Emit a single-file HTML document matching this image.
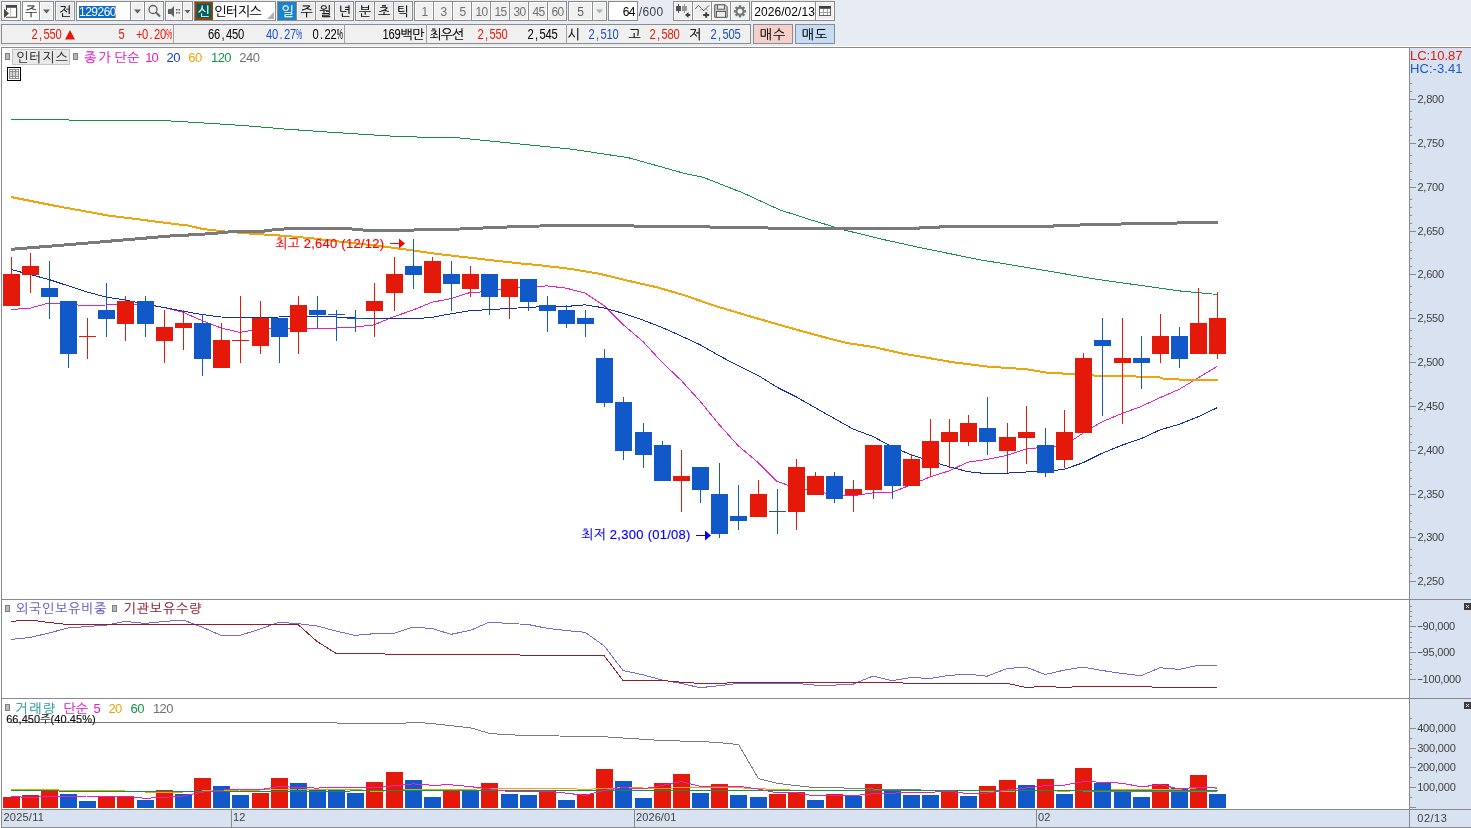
<!DOCTYPE html>
<html lang="ko"><head><meta charset="utf-8"><title>인터지스 차트</title>
<style>
html,body{margin:0;padding:0;background:#fff;}
body{width:1471px;height:828px;position:relative;overflow:hidden;font-family:'Liberation Sans','NanumGothic','Noto Sans CJK KR',sans-serif;}
.a{position:absolute;}
.t{white-space:nowrap;z-index:2;}
.k{-webkit-text-stroke:0.15px currentColor;}
.m i{display:inline-block;width:7.5px;text-align:center;font-style:normal;}
.m i.p{width:12.5px;margin:0 -2.5px;transform:scaleX(0.62);}
svg{position:absolute;left:0;top:0;}
</style></head><body>
<svg width="1471" height="828" viewBox="0 0 1471 828" shape-rendering="crispEdges">
<rect x="1410" y="48" width="61" height="780" fill="#d8e2f0"/>
<rect x="2" y="810" width="1469" height="17" fill="#d8e2f0"/>
<rect x="1" y="47" width="1470" height="1" fill="#8a8a8a"/>
<rect x="1" y="47" width="1" height="781" fill="#8a8a8a"/>
<rect x="1409" y="47" width="1" height="781" fill="#8a8a8a"/>
<rect x="1" y="599" width="1470" height="1" fill="#8a8a8a"/>
<rect x="1" y="698" width="1470" height="1" fill="#8a8a8a"/>
<rect x="1" y="809" width="1470" height="1" fill="#8a8a8a"/>
<rect x="1" y="827" width="1470" height="1" fill="#8a8a8a"/>
<rect x="1410" y="581" width="6" height="1" fill="#8a8a8a"/>
<rect x="1410" y="573" width="2" height="1" fill="#8a8a8a"/>
<rect x="1410" y="565" width="2" height="1" fill="#8a8a8a"/>
<rect x="1410" y="557" width="2" height="1" fill="#8a8a8a"/>
<rect x="1410" y="549" width="2" height="1" fill="#8a8a8a"/>
<rect x="1410" y="537" width="6" height="1" fill="#8a8a8a"/>
<rect x="1410" y="529" width="2" height="1" fill="#8a8a8a"/>
<rect x="1410" y="521" width="2" height="1" fill="#8a8a8a"/>
<rect x="1410" y="513" width="2" height="1" fill="#8a8a8a"/>
<rect x="1410" y="505" width="2" height="1" fill="#8a8a8a"/>
<rect x="1410" y="494" width="6" height="1" fill="#8a8a8a"/>
<rect x="1410" y="486" width="2" height="1" fill="#8a8a8a"/>
<rect x="1410" y="478" width="2" height="1" fill="#8a8a8a"/>
<rect x="1410" y="470" width="2" height="1" fill="#8a8a8a"/>
<rect x="1410" y="462" width="2" height="1" fill="#8a8a8a"/>
<rect x="1410" y="450" width="6" height="1" fill="#8a8a8a"/>
<rect x="1410" y="442" width="2" height="1" fill="#8a8a8a"/>
<rect x="1410" y="434" width="2" height="1" fill="#8a8a8a"/>
<rect x="1410" y="426" width="2" height="1" fill="#8a8a8a"/>
<rect x="1410" y="418" width="2" height="1" fill="#8a8a8a"/>
<rect x="1410" y="406" width="6" height="1" fill="#8a8a8a"/>
<rect x="1410" y="398" width="2" height="1" fill="#8a8a8a"/>
<rect x="1410" y="390" width="2" height="1" fill="#8a8a8a"/>
<rect x="1410" y="382" width="2" height="1" fill="#8a8a8a"/>
<rect x="1410" y="374" width="2" height="1" fill="#8a8a8a"/>
<rect x="1410" y="362" width="6" height="1" fill="#8a8a8a"/>
<rect x="1410" y="354" width="2" height="1" fill="#8a8a8a"/>
<rect x="1410" y="346" width="2" height="1" fill="#8a8a8a"/>
<rect x="1410" y="338" width="2" height="1" fill="#8a8a8a"/>
<rect x="1410" y="330" width="2" height="1" fill="#8a8a8a"/>
<rect x="1410" y="318" width="6" height="1" fill="#8a8a8a"/>
<rect x="1410" y="310" width="2" height="1" fill="#8a8a8a"/>
<rect x="1410" y="302" width="2" height="1" fill="#8a8a8a"/>
<rect x="1410" y="294" width="2" height="1" fill="#8a8a8a"/>
<rect x="1410" y="286" width="2" height="1" fill="#8a8a8a"/>
<rect x="1410" y="274" width="6" height="1" fill="#8a8a8a"/>
<rect x="1410" y="266" width="2" height="1" fill="#8a8a8a"/>
<rect x="1410" y="258" width="2" height="1" fill="#8a8a8a"/>
<rect x="1410" y="250" width="2" height="1" fill="#8a8a8a"/>
<rect x="1410" y="242" width="2" height="1" fill="#8a8a8a"/>
<rect x="1410" y="231" width="6" height="1" fill="#8a8a8a"/>
<rect x="1410" y="223" width="2" height="1" fill="#8a8a8a"/>
<rect x="1410" y="215" width="2" height="1" fill="#8a8a8a"/>
<rect x="1410" y="207" width="2" height="1" fill="#8a8a8a"/>
<rect x="1410" y="199" width="2" height="1" fill="#8a8a8a"/>
<rect x="1410" y="187" width="6" height="1" fill="#8a8a8a"/>
<rect x="1410" y="179" width="2" height="1" fill="#8a8a8a"/>
<rect x="1410" y="171" width="2" height="1" fill="#8a8a8a"/>
<rect x="1410" y="163" width="2" height="1" fill="#8a8a8a"/>
<rect x="1410" y="155" width="2" height="1" fill="#8a8a8a"/>
<rect x="1410" y="143" width="6" height="1" fill="#8a8a8a"/>
<rect x="1410" y="135" width="2" height="1" fill="#8a8a8a"/>
<rect x="1410" y="127" width="2" height="1" fill="#8a8a8a"/>
<rect x="1410" y="119" width="2" height="1" fill="#8a8a8a"/>
<rect x="1410" y="111" width="2" height="1" fill="#8a8a8a"/>
<rect x="1410" y="99" width="6" height="1" fill="#8a8a8a"/>
<rect x="1410" y="91" width="2" height="1" fill="#8a8a8a"/>
<rect x="1410" y="83" width="2" height="1" fill="#8a8a8a"/>
<polyline points="11.0,309.5 30.0,308.2 49.0,303.0 68.0,304.5 87.0,305.5 106.0,305.0 125.0,304.5 145.0,304.5 164.0,307.5 183.0,312.2 202.0,320.6 221.0,328.0 240.0,332.4 260.0,328.9 279.0,328.9 298.0,327.6 317.0,328.9 336.0,328.0 355.0,327.1 374.0,324.9 394.0,316.6 413.0,310.1 432.0,302.2 451.0,298.7 470.0,292.5 489.0,291.6 509.0,288.1 528.0,286.8 547.0,285.9 566.0,288.1 585.0,293.0 604.0,305.7 623.0,324.5 643.0,341.6 662.0,362.2 681.0,380.2 700.0,401.2 719.0,424.4 738.0,445.5 758.0,462.5 777.0,481.4 796.0,488.0 815.0,490.6 834.0,495.0 853.0,495.8 873.0,492.8 892.0,492.3 911.0,484.9 930.0,477.0 949.0,470.9 968.0,462.1 987.0,459.5 1007.0,455.5 1026.0,449.0 1045.0,447.2 1064.0,445.9 1083.0,433.2 1102.0,421.8 1122.0,413.5 1141.0,406.5 1160.0,397.7 1179.0,389.4 1198.0,378.0 1217.0,366.6" fill="none" stroke="#e61fc4" stroke-width="1"/>
<polyline points="11.0,269.5 30.0,274.5 49.0,279.5 68.0,285.8 87.0,292.0 106.0,297.0 125.0,300.0 145.0,304.0 164.0,307.5 183.0,311.2 202.0,314.5 221.0,317.0 240.0,317.5 260.0,317.5 279.0,317.0 298.0,316.5 317.0,316.5 336.0,317.0 355.0,318.0 374.0,318.6 394.0,318.6 413.0,319.0 432.0,317.3 451.0,313.8 470.0,310.7 489.0,309.6 509.0,308.5 528.0,307.4 547.0,306.5 566.0,306.5 585.0,304.8 604.0,307.9 623.0,313.3 643.0,320.1 662.0,327.4 681.0,335.9 700.0,344.7 719.0,355.6 738.0,365.7 758.0,375.3 777.0,387.2 796.0,396.8 815.0,407.6 834.0,418.3 853.0,429.0 873.0,436.5 892.0,446.8 911.0,454.7 930.0,461.2 949.0,466.7 968.0,471.7 987.0,473.7 1007.0,473.1 1026.0,472.0 1045.0,471.5 1064.0,469.3 1083.0,462.8 1102.0,453.3 1122.0,445.2 1141.0,438.7 1160.0,429.9 1179.0,424.4 1198.0,416.8 1217.0,407.8" fill="none" stroke="#0f2fa3" stroke-width="1"/>
<polyline points="11.0,197.0 28.5,200.5 57.0,206.2 85.7,211.4 108.5,215.6 142.8,219.9 171.3,223.6 188.5,225.6 202.7,229.0 222.7,231.3 245.6,233.3 285.5,235.9 314.0,238.5 342.6,241.9 371.0,245.0 394.0,247.9 420.0,251.5 434.3,253.6 471.4,257.9 514.2,262.8 542.8,265.6 571.3,269.0 599.9,273.9 628.4,280.8 657.0,287.3 685.5,295.6 714.0,305.6 742.7,314.2 771.2,322.5 799.8,330.6 820.0,336.1 847.0,343.1 873.0,346.9 902.4,353.5 926.9,357.7 951.4,362.0 987.0,366.5 1027.0,369.3 1047.0,372.7 1075.6,374.2 1095.5,375.6 1158.4,377.0 1164.0,378.7 1181.0,379.6 1217.8,379.9" fill="none" stroke="#eea40a" stroke-width="2"/>
<polyline points="11.0,119.1 57.0,119.1 80.0,120.8 114.0,120.8 137.0,120.6 171.0,121.0 211.0,123.4 245.6,125.7 285.5,129.1 322.7,131.7 365.5,134.5 399.8,136.6 460.0,138.0 514.2,143.4 571.3,149.1 628.4,157.7 685.5,173.7 702.7,177.1 742.7,192.8 779.8,209.9 810.0,219.6 844.3,230.0 881.4,239.1 924.2,248.5 981.3,260.0 1038.4,269.4 1095.5,279.1 1152.7,287.1 1181.2,291.1 1217.8,294.5" fill="none" stroke="#129443" stroke-width="1"/>
<polyline points="11.0,249.3 57.0,245.6 114.0,240.8 171.0,235.9 185.0,235.2 200.0,234.4 212.0,233.5 224.0,232.5 231.0,231.6 262.0,231.4 268.0,230.5 276.0,229.5 294.0,228.4 342.6,228.2 365.5,230.2 400.0,230.3 460.0,229.0 518.5,226.5 557.0,225.6 632.7,225.6 635.6,226.5 708.4,226.5 711.0,227.4 767.0,227.6 769.8,228.5 820.0,228.4 918.5,228.3 921.4,227.4 958.5,226.6 1052.7,226.3 1055.6,225.4 1092.7,224.8 1132.7,223.7 1189.8,222.8 1217.8,222.6" fill="none" stroke="#7a7a7a" stroke-width="3"/>
<rect x="11" y="257" width="1" height="49" fill="#e5190a"/>
<rect x="3" y="274" width="17" height="32" fill="#e5190a"/>
<rect x="30" y="253" width="1" height="40" fill="#e5190a"/>
<rect x="22" y="266" width="17" height="9" fill="#e5190a"/>
<rect x="49" y="261" width="1" height="58" fill="#1159c9"/>
<rect x="41" y="288" width="17" height="9" fill="#1159c9"/>
<rect x="68" y="301" width="1" height="67" fill="#1159c9"/>
<rect x="60" y="301" width="17" height="53" fill="#1159c9"/>
<rect x="87" y="318" width="1" height="41" fill="#e5190a"/>
<rect x="79" y="336" width="17" height="1" fill="#e5190a"/>
<rect x="106" y="283" width="1" height="54" fill="#1159c9"/>
<rect x="98" y="310" width="17" height="9" fill="#1159c9"/>
<rect x="125" y="296" width="1" height="45" fill="#e5190a"/>
<rect x="117" y="301" width="17" height="23" fill="#e5190a"/>
<rect x="145" y="296" width="1" height="41" fill="#1159c9"/>
<rect x="137" y="301" width="17" height="23" fill="#1159c9"/>
<rect x="164" y="310" width="1" height="53" fill="#e5190a"/>
<rect x="156" y="327" width="17" height="14" fill="#e5190a"/>
<rect x="183" y="310" width="1" height="40" fill="#e5190a"/>
<rect x="175" y="323" width="17" height="5" fill="#e5190a"/>
<rect x="202" y="314" width="1" height="62" fill="#1159c9"/>
<rect x="194" y="323" width="17" height="36" fill="#1159c9"/>
<rect x="221" y="323" width="1" height="45" fill="#e5190a"/>
<rect x="213" y="340" width="17" height="28" fill="#e5190a"/>
<rect x="240" y="296" width="1" height="67" fill="#e5190a"/>
<rect x="232" y="340" width="17" height="1" fill="#e5190a"/>
<rect x="260" y="301" width="1" height="53" fill="#e5190a"/>
<rect x="252" y="318" width="17" height="28" fill="#e5190a"/>
<rect x="279" y="318" width="1" height="45" fill="#1159c9"/>
<rect x="271" y="318" width="17" height="19" fill="#1159c9"/>
<rect x="298" y="296" width="1" height="58" fill="#e5190a"/>
<rect x="290" y="305" width="17" height="27" fill="#e5190a"/>
<rect x="317" y="296" width="1" height="32" fill="#1159c9"/>
<rect x="309" y="310" width="17" height="5" fill="#1159c9"/>
<rect x="336" y="310" width="1" height="31" fill="#1159c9"/>
<rect x="328" y="314" width="17" height="1" fill="#1159c9"/>
<rect x="355" y="310" width="1" height="22" fill="#1159c9"/>
<rect x="347" y="318" width="17" height="1" fill="#1159c9"/>
<rect x="374" y="283" width="1" height="54" fill="#e5190a"/>
<rect x="366" y="301" width="17" height="10" fill="#e5190a"/>
<rect x="394" y="257" width="1" height="54" fill="#e5190a"/>
<rect x="386" y="274" width="17" height="19" fill="#e5190a"/>
<rect x="413" y="239" width="1" height="50" fill="#1159c9"/>
<rect x="405" y="266" width="17" height="9" fill="#1159c9"/>
<rect x="432" y="257" width="1" height="36" fill="#e5190a"/>
<rect x="424" y="261" width="17" height="32" fill="#e5190a"/>
<rect x="451" y="261" width="1" height="50" fill="#1159c9"/>
<rect x="443" y="274" width="17" height="10" fill="#1159c9"/>
<rect x="470" y="266" width="1" height="31" fill="#e5190a"/>
<rect x="462" y="274" width="17" height="15" fill="#e5190a"/>
<rect x="489" y="274" width="1" height="41" fill="#1159c9"/>
<rect x="481" y="274" width="17" height="23" fill="#1159c9"/>
<rect x="509" y="279" width="1" height="40" fill="#e5190a"/>
<rect x="501" y="279" width="17" height="18" fill="#e5190a"/>
<rect x="528" y="279" width="1" height="32" fill="#1159c9"/>
<rect x="520" y="279" width="17" height="23" fill="#1159c9"/>
<rect x="547" y="296" width="1" height="36" fill="#1159c9"/>
<rect x="539" y="305" width="17" height="6" fill="#1159c9"/>
<rect x="566" y="305" width="1" height="23" fill="#1159c9"/>
<rect x="558" y="310" width="17" height="14" fill="#1159c9"/>
<rect x="585" y="310" width="1" height="27" fill="#1159c9"/>
<rect x="577" y="318" width="17" height="6" fill="#1159c9"/>
<rect x="604" y="349" width="1" height="58" fill="#1159c9"/>
<rect x="596" y="358" width="17" height="45" fill="#1159c9"/>
<rect x="623" y="397" width="1" height="63" fill="#1159c9"/>
<rect x="615" y="402" width="17" height="49" fill="#1159c9"/>
<rect x="643" y="423" width="1" height="45" fill="#1159c9"/>
<rect x="635" y="432" width="17" height="23" fill="#1159c9"/>
<rect x="662" y="441" width="1" height="40" fill="#1159c9"/>
<rect x="654" y="445" width="17" height="36" fill="#1159c9"/>
<rect x="681" y="450" width="1" height="62" fill="#e5190a"/>
<rect x="673" y="476" width="17" height="5" fill="#e5190a"/>
<rect x="700" y="467" width="1" height="36" fill="#1159c9"/>
<rect x="692" y="467" width="17" height="23" fill="#1159c9"/>
<rect x="719" y="463" width="1" height="75" fill="#1159c9"/>
<rect x="711" y="494" width="17" height="40" fill="#1159c9"/>
<rect x="738" y="485" width="1" height="45" fill="#1159c9"/>
<rect x="730" y="516" width="17" height="5" fill="#1159c9"/>
<rect x="758" y="480" width="1" height="37" fill="#e5190a"/>
<rect x="750" y="494" width="17" height="23" fill="#e5190a"/>
<rect x="777" y="489" width="1" height="45" fill="#1159c9"/>
<rect x="769" y="511" width="17" height="1" fill="#1159c9"/>
<rect x="796" y="459" width="1" height="71" fill="#e5190a"/>
<rect x="788" y="467" width="17" height="45" fill="#e5190a"/>
<rect x="815" y="472" width="1" height="23" fill="#e5190a"/>
<rect x="807" y="476" width="17" height="19" fill="#e5190a"/>
<rect x="834" y="472" width="1" height="31" fill="#1159c9"/>
<rect x="826" y="476" width="17" height="23" fill="#1159c9"/>
<rect x="853" y="480" width="1" height="32" fill="#e5190a"/>
<rect x="845" y="489" width="17" height="6" fill="#e5190a"/>
<rect x="873" y="445" width="1" height="54" fill="#e5190a"/>
<rect x="865" y="445" width="17" height="45" fill="#e5190a"/>
<rect x="892" y="445" width="1" height="54" fill="#1159c9"/>
<rect x="884" y="445" width="17" height="41" fill="#1159c9"/>
<rect x="911" y="454" width="1" height="32" fill="#e5190a"/>
<rect x="903" y="459" width="17" height="27" fill="#e5190a"/>
<rect x="930" y="419" width="1" height="58" fill="#e5190a"/>
<rect x="922" y="441" width="17" height="27" fill="#e5190a"/>
<rect x="949" y="419" width="1" height="49" fill="#e5190a"/>
<rect x="941" y="432" width="17" height="10" fill="#e5190a"/>
<rect x="968" y="415" width="1" height="31" fill="#e5190a"/>
<rect x="960" y="423" width="17" height="19" fill="#e5190a"/>
<rect x="987" y="397" width="1" height="58" fill="#1159c9"/>
<rect x="979" y="428" width="17" height="14" fill="#1159c9"/>
<rect x="1007" y="423" width="1" height="50" fill="#e5190a"/>
<rect x="999" y="437" width="17" height="14" fill="#e5190a"/>
<rect x="1026" y="406" width="1" height="58" fill="#e5190a"/>
<rect x="1018" y="432" width="17" height="6" fill="#e5190a"/>
<rect x="1045" y="428" width="1" height="49" fill="#1159c9"/>
<rect x="1037" y="445" width="17" height="28" fill="#1159c9"/>
<rect x="1064" y="410" width="1" height="58" fill="#e5190a"/>
<rect x="1056" y="432" width="17" height="28" fill="#e5190a"/>
<rect x="1083" y="353" width="1" height="80" fill="#e5190a"/>
<rect x="1075" y="358" width="17" height="75" fill="#e5190a"/>
<rect x="1102" y="318" width="1" height="98" fill="#1159c9"/>
<rect x="1094" y="340" width="17" height="6" fill="#1159c9"/>
<rect x="1122" y="318" width="1" height="106" fill="#e5190a"/>
<rect x="1114" y="358" width="17" height="5" fill="#e5190a"/>
<rect x="1141" y="336" width="1" height="53" fill="#1159c9"/>
<rect x="1133" y="358" width="17" height="5" fill="#1159c9"/>
<rect x="1160" y="314" width="1" height="49" fill="#e5190a"/>
<rect x="1152" y="336" width="17" height="18" fill="#e5190a"/>
<rect x="1179" y="327" width="1" height="41" fill="#1159c9"/>
<rect x="1171" y="336" width="17" height="23" fill="#1159c9"/>
<rect x="1198" y="288" width="1" height="66" fill="#e5190a"/>
<rect x="1190" y="323" width="17" height="31" fill="#e5190a"/>
<rect x="1217" y="292" width="1" height="67" fill="#e5190a"/>
<rect x="1209" y="318" width="17" height="36" fill="#e5190a"/>
<polyline points="11.0,639.4 30.0,637.5 49.0,633.0 68.0,628.0 87.0,626.5 106.0,625.1 125.0,621.4 145.0,623.4 164.0,621.5 183.0,620.0 202.0,627.0 221.0,635.4 240.0,635.4 260.0,629.0 279.0,622.3 298.0,623.7 317.0,626.0 336.0,631.0 355.0,635.4 374.0,633.7 394.0,633.4 413.0,627.1 432.0,628.5 451.0,634.3 470.0,630.5 489.0,622.3 509.0,623.4 528.0,624.5 547.0,628.3 566.0,630.5 585.0,632.3 604.0,645.7 623.0,670.5 643.0,674.8 662.0,680.0 681.0,683.4 700.0,687.7 719.0,685.7 738.0,683.4 758.0,683.4 777.0,683.4 796.0,683.4 815.0,685.1 834.0,685.1 853.0,684.2 873.0,676.0 892.0,680.8 911.0,677.4 930.0,678.5 949.0,675.4 968.0,674.2 987.0,676.2 1007.0,668.5 1026.0,667.1 1045.0,674.5 1064.0,670.2 1083.0,667.1 1102.0,670.5 1122.0,673.4 1141.0,675.7 1160.0,667.7 1179.0,669.4 1198.0,665.4 1217.0,665.4" fill="none" stroke="#7a68d4" stroke-width="1"/>
<polyline points="11.0,621.4 30.0,620.0 49.0,622.5 68.0,624.5 87.0,624.5 106.0,624.5 125.0,624.5 145.0,624.5 164.0,624.5 183.0,624.5 202.0,624.5 221.0,624.5 240.0,624.5 260.0,624.5 279.0,624.5 298.0,624.5 317.0,641.4 336.0,653.4 355.0,653.4 374.0,653.4 394.0,654.5 413.0,654.5 432.0,654.5 451.0,654.5 470.0,654.5 489.0,654.5 509.0,654.5 528.0,655.4 547.0,655.4 566.0,655.4 585.0,655.4 604.0,655.4 623.0,680.5 643.0,680.5 662.0,680.5 681.0,682.2 700.0,683.4 719.0,683.4 738.0,682.5 758.0,682.5 777.0,682.5 796.0,682.5 815.0,682.5 834.0,682.5 853.0,682.5 873.0,682.5 892.0,682.5 911.0,683.4 930.0,683.4 949.0,683.4 968.0,683.4 987.0,683.4 1007.0,683.4 1026.0,687.4 1045.0,686.5 1064.0,687.4 1083.0,686.5 1102.0,686.5 1122.0,686.5 1141.0,686.5 1160.0,687.4 1179.0,687.4 1198.0,687.4 1217.0,687.4" fill="none" stroke="#8f1f2f" stroke-width="1"/>
<rect x="1410" y="626" width="6" height="1" fill="#8a8a8a"/>
<rect x="1410" y="621" width="2" height="1" fill="#8a8a8a"/>
<rect x="1410" y="616" width="2" height="1" fill="#8a8a8a"/>
<rect x="1410" y="611" width="2" height="1" fill="#8a8a8a"/>
<rect x="1410" y="606" width="2" height="1" fill="#8a8a8a"/>
<rect x="1410" y="652" width="6" height="1" fill="#8a8a8a"/>
<rect x="1410" y="647" width="2" height="1" fill="#8a8a8a"/>
<rect x="1410" y="642" width="2" height="1" fill="#8a8a8a"/>
<rect x="1410" y="637" width="2" height="1" fill="#8a8a8a"/>
<rect x="1410" y="632" width="2" height="1" fill="#8a8a8a"/>
<rect x="1410" y="679" width="6" height="1" fill="#8a8a8a"/>
<rect x="1410" y="674" width="2" height="1" fill="#8a8a8a"/>
<rect x="1410" y="669" width="2" height="1" fill="#8a8a8a"/>
<rect x="1410" y="664" width="2" height="1" fill="#8a8a8a"/>
<rect x="1410" y="659" width="2" height="1" fill="#8a8a8a"/>
<rect x="3" y="797" width="17" height="11" fill="#e5190a"/>
<rect x="22" y="795" width="17" height="13" fill="#e5190a"/>
<rect x="41" y="790" width="17" height="18" fill="#e5190a"/>
<rect x="60" y="794" width="17" height="14" fill="#1159c9"/>
<rect x="79" y="801" width="17" height="7" fill="#1159c9"/>
<rect x="98" y="797" width="17" height="11" fill="#e5190a"/>
<rect x="117" y="796" width="17" height="12" fill="#e5190a"/>
<rect x="137" y="800" width="17" height="8" fill="#1159c9"/>
<rect x="156" y="790" width="17" height="18" fill="#e5190a"/>
<rect x="175" y="794" width="17" height="14" fill="#1159c9"/>
<rect x="194" y="778" width="17" height="30" fill="#e5190a"/>
<rect x="213" y="786" width="17" height="22" fill="#1159c9"/>
<rect x="232" y="795" width="17" height="13" fill="#1159c9"/>
<rect x="252" y="793" width="17" height="15" fill="#e5190a"/>
<rect x="271" y="778" width="17" height="30" fill="#e5190a"/>
<rect x="290" y="783" width="17" height="25" fill="#1159c9"/>
<rect x="309" y="789" width="17" height="19" fill="#1159c9"/>
<rect x="328" y="790" width="17" height="18" fill="#1159c9"/>
<rect x="347" y="793" width="17" height="15" fill="#1159c9"/>
<rect x="366" y="782" width="17" height="26" fill="#e5190a"/>
<rect x="386" y="772" width="17" height="36" fill="#e5190a"/>
<rect x="405" y="780" width="17" height="28" fill="#1159c9"/>
<rect x="424" y="797" width="17" height="11" fill="#1159c9"/>
<rect x="443" y="791" width="17" height="17" fill="#e5190a"/>
<rect x="462" y="791" width="17" height="17" fill="#1159c9"/>
<rect x="481" y="783" width="17" height="25" fill="#e5190a"/>
<rect x="501" y="794" width="17" height="14" fill="#1159c9"/>
<rect x="520" y="795" width="17" height="13" fill="#1159c9"/>
<rect x="539" y="791" width="17" height="17" fill="#e5190a"/>
<rect x="558" y="800" width="17" height="8" fill="#1159c9"/>
<rect x="577" y="794" width="17" height="14" fill="#e5190a"/>
<rect x="596" y="769" width="17" height="39" fill="#e5190a"/>
<rect x="615" y="781" width="17" height="27" fill="#1159c9"/>
<rect x="635" y="798" width="17" height="10" fill="#1159c9"/>
<rect x="654" y="783" width="17" height="25" fill="#e5190a"/>
<rect x="673" y="774" width="17" height="34" fill="#e5190a"/>
<rect x="692" y="793" width="17" height="15" fill="#1159c9"/>
<rect x="711" y="784" width="17" height="24" fill="#e5190a"/>
<rect x="730" y="795" width="17" height="13" fill="#1159c9"/>
<rect x="750" y="797" width="17" height="11" fill="#1159c9"/>
<rect x="769" y="794" width="17" height="14" fill="#e5190a"/>
<rect x="788" y="792" width="17" height="16" fill="#e5190a"/>
<rect x="807" y="800" width="17" height="8" fill="#1159c9"/>
<rect x="826" y="794" width="17" height="14" fill="#e5190a"/>
<rect x="845" y="796" width="17" height="12" fill="#1159c9"/>
<rect x="865" y="784" width="17" height="24" fill="#e5190a"/>
<rect x="884" y="789" width="17" height="19" fill="#1159c9"/>
<rect x="903" y="795" width="17" height="13" fill="#1159c9"/>
<rect x="922" y="795" width="17" height="13" fill="#1159c9"/>
<rect x="941" y="791" width="17" height="17" fill="#e5190a"/>
<rect x="960" y="796" width="17" height="12" fill="#1159c9"/>
<rect x="979" y="786" width="17" height="22" fill="#e5190a"/>
<rect x="999" y="780" width="17" height="28" fill="#e5190a"/>
<rect x="1018" y="785" width="17" height="23" fill="#1159c9"/>
<rect x="1037" y="779" width="17" height="29" fill="#e5190a"/>
<rect x="1056" y="794" width="17" height="14" fill="#1159c9"/>
<rect x="1075" y="768" width="17" height="40" fill="#e5190a"/>
<rect x="1094" y="783" width="17" height="25" fill="#1159c9"/>
<rect x="1114" y="790" width="17" height="18" fill="#1159c9"/>
<rect x="1133" y="797" width="17" height="11" fill="#1159c9"/>
<rect x="1152" y="784" width="17" height="24" fill="#e5190a"/>
<rect x="1171" y="788" width="17" height="20" fill="#1159c9"/>
<rect x="1190" y="775" width="17" height="33" fill="#e5190a"/>
<rect x="1209" y="794" width="17" height="14" fill="#1159c9"/>
<polyline points="11.0,722.3 330.0,722.3 340.0,723.3 400.0,723.6 414.0,722.2 431.0,723.4 471.0,727.9 490.0,733.6 526.0,735.6 600.0,736.5 657.0,740.2 714.0,742.2 738.5,744.5 758.4,778.5 777.0,783.3 796.0,785.6 815.0,787.6 844.0,788.0 881.0,789.3 921.0,790.0 1000.0,790.7 1217.5,791.5" fill="none" stroke="#7a7a7a" stroke-width="1"/>
<polyline points="11.0,789.5 30.0,789.5 49.0,789.5 68.0,790.5 87.0,790.5 106.0,790.5 125.0,791.0 145.0,792.0 164.0,792.0 183.0,792.0 202.0,791.0 221.0,790.5 240.0,790.0 260.0,790.0 279.0,789.5 298.0,789.0 317.0,789.0 336.0,789.0 355.0,789.0 374.0,791.6 394.0,790.4 413.0,789.6 432.0,790.0 451.0,789.8 470.0,789.3 489.0,788.5 509.0,788.5 528.0,788.2 547.0,788.2 566.0,788.5 585.0,789.4 604.0,788.5 623.0,787.8 643.0,788.0 662.0,788.3 681.0,787.8 700.0,788.0 719.0,787.7 738.0,787.8 758.0,788.6 777.0,789.6 796.0,790.2 815.0,790.4 834.0,790.6 853.0,790.8 873.0,790.9 892.0,790.6 911.0,790.7 930.0,790.8 949.0,790.4 968.0,790.5 987.0,791.3 1007.0,791.3 1026.0,790.6 1045.0,790.4 1064.0,791.4 1083.0,790.2 1102.0,790.1 1122.0,789.9 1141.0,789.9 1160.0,789.4 1179.0,789.2 1198.0,787.9 1217.0,787.9" fill="none" stroke="#eea40a" stroke-width="1"/>
<polyline points="11.0,790.5 58.0,790.5 60.0,791.5 300.0,791.5 400.0,790.5 820.0,790.5 1217.5,790.5" fill="none" stroke="#129443" stroke-width="1"/>
<polyline points="11.0,796.5 30.0,797.5 49.0,796.5 68.0,796.5 87.0,796.0 106.0,796.0 125.0,796.2 145.0,798.3 164.0,797.4 183.0,796.0 202.0,792.2 221.0,790.2 240.0,789.1 260.0,789.8 279.0,786.5 298.0,787.5 317.0,788.1 336.0,787.2 355.0,787.1 374.0,787.9 394.0,785.7 413.0,783.9 432.0,785.2 451.0,784.8 470.0,786.6 489.0,788.8 509.0,791.6 528.0,791.2 547.0,791.3 566.0,793.1 585.0,795.4 604.0,790.4 623.0,787.6 643.0,789.0 662.0,785.5 681.0,781.5 700.0,786.3 719.0,786.8 738.0,786.2 758.0,789.0 777.0,792.9 796.0,792.7 815.0,796.0 834.0,795.9 853.0,795.7 873.0,793.8 892.0,793.2 911.0,792.2 930.0,792.3 949.0,791.2 968.0,793.7 987.0,793.1 1007.0,790.0 1026.0,788.0 1045.0,785.7 1064.0,785.2 1083.0,781.6 1102.0,782.2 1122.0,783.2 1141.0,786.8 1160.0,784.8 1179.0,788.8 1198.0,787.3 1217.0,788.1" fill="none" stroke="#e61fc4" stroke-width="1"/>
<rect x="1410" y="728" width="6" height="1" fill="#8a8a8a"/>
<rect x="1410" y="748" width="6" height="1" fill="#8a8a8a"/>
<rect x="1410" y="767" width="6" height="1" fill="#8a8a8a"/>
<rect x="1410" y="787" width="6" height="1" fill="#8a8a8a"/>
<rect x="1410" y="807" width="6" height="1" fill="#8a8a8a"/>
<rect x="1410" y="718" width="2" height="1" fill="#8a8a8a"/>
<rect x="1410" y="738" width="2" height="1" fill="#8a8a8a"/>
<rect x="1410" y="757" width="2" height="1" fill="#8a8a8a"/>
<rect x="1410" y="777" width="2" height="1" fill="#8a8a8a"/>
<rect x="1410" y="797" width="2" height="1" fill="#8a8a8a"/>
<rect x="1464" y="603" width="7" height="7" fill="#3c3c3c"/>
<path d="M1466,605 l3,3 M1469,605 l-3,3" stroke="#d8d8d8" stroke-width="1" fill="none"/>
<rect x="1464" y="702" width="7" height="7" fill="#3c3c3c"/>
<path d="M1466,704 l3,3 M1469,704 l-3,3" stroke="#d8d8d8" stroke-width="1" fill="none"/>
<rect x="231" y="810" width="1" height="17" fill="#8a8a8a"/>
<rect x="634" y="810" width="1" height="17" fill="#8a8a8a"/>
<rect x="1036" y="810" width="1" height="17" fill="#8a8a8a"/>
<rect x="390" y="243" width="12" height="1" fill="#ff0000"/>
<polygon points="399,238.5 405,243.5 399,248.5" fill="#ff0000" shape-rendering="geometricPrecision"/>
<rect x="696" y="535" width="12" height="1" fill="#0000ff"/>
<polygon points="705,530.5 711,535.5 705,540.5" fill="#0000ff" shape-rendering="geometricPrecision"/>
</svg>
<div class="a" style="left:0px;top:0px;width:1471px;height:46px;background:#e7ebf4;"></div>
<span class="a t" style="top:575.0px;font-size:11px;line-height:13px;color:#404040;left:1417.4px;letter-spacing:-0.2px;">2,250</span>
<span class="a t" style="top:531.0px;font-size:11px;line-height:13px;color:#404040;left:1417.4px;letter-spacing:-0.2px;">2,300</span>
<span class="a t" style="top:488.0px;font-size:11px;line-height:13px;color:#404040;left:1417.4px;letter-spacing:-0.2px;">2,350</span>
<span class="a t" style="top:444.0px;font-size:11px;line-height:13px;color:#404040;left:1417.4px;letter-spacing:-0.2px;">2,400</span>
<span class="a t" style="top:400.0px;font-size:11px;line-height:13px;color:#404040;left:1417.4px;letter-spacing:-0.2px;">2,450</span>
<span class="a t" style="top:356.0px;font-size:11px;line-height:13px;color:#404040;left:1417.4px;letter-spacing:-0.2px;">2,500</span>
<span class="a t" style="top:312.0px;font-size:11px;line-height:13px;color:#404040;left:1417.4px;letter-spacing:-0.2px;">2,550</span>
<span class="a t" style="top:268.0px;font-size:11px;line-height:13px;color:#404040;left:1417.4px;letter-spacing:-0.2px;">2,600</span>
<span class="a t" style="top:225.0px;font-size:11px;line-height:13px;color:#404040;left:1417.4px;letter-spacing:-0.2px;">2,650</span>
<span class="a t" style="top:181.0px;font-size:11px;line-height:13px;color:#404040;left:1417.4px;letter-spacing:-0.2px;">2,700</span>
<span class="a t" style="top:137.0px;font-size:11px;line-height:13px;color:#404040;left:1417.4px;letter-spacing:-0.2px;">2,750</span>
<span class="a t" style="top:93.0px;font-size:11px;line-height:13px;color:#404040;left:1417.4px;letter-spacing:-0.2px;">2,800</span>
<span class="a t" style="top:48.0px;font-size:13px;line-height:15px;color:#e5190a;left:1410px;letter-spacing:-0.04px;">LC:10.87</span>
<span class="a t" style="top:61.0px;font-size:13px;line-height:15px;color:#1a5ad0;left:1410px;letter-spacing:0.07px;">HC:-3.41</span>
<span class="a t" style="top:620.0px;font-size:11px;line-height:13px;color:#404040;left:1417px;letter-spacing:-0.2px;"><span style="display:inline-block;position:relative;top:-0.7px;transform:scaleX(1.7);transform-origin:left center;width:5.6px">-</span>90,000</span>
<span class="a t" style="top:646.0px;font-size:11px;line-height:13px;color:#404040;left:1417px;letter-spacing:-0.2px;"><span style="display:inline-block;position:relative;top:-0.7px;transform:scaleX(1.7);transform-origin:left center;width:5.6px">-</span>95,000</span>
<span class="a t" style="top:673.0px;font-size:11px;line-height:13px;color:#404040;left:1417px;letter-spacing:-0.2px;"><span style="display:inline-block;position:relative;top:-0.7px;transform:scaleX(1.7);transform-origin:left center;width:5.6px">-</span>100,000</span>
<span class="a t" style="top:722.0px;font-size:11px;line-height:13px;color:#404040;left:1417.2px;letter-spacing:-0.2px;">400,000</span>
<span class="a t" style="top:742.0px;font-size:11px;line-height:13px;color:#404040;left:1417.2px;letter-spacing:-0.2px;">300,000</span>
<span class="a t" style="top:761.0px;font-size:11px;line-height:13px;color:#404040;left:1417.2px;letter-spacing:-0.2px;">200,000</span>
<span class="a t" style="top:781.0px;font-size:11px;line-height:13px;color:#404040;left:1417.2px;letter-spacing:-0.2px;">100,000</span>
<span class="a t" style="top:810.8px;font-size:11px;line-height:13px;color:#404040;left:3.5px;letter-spacing:0.22px;">2025/11</span>
<span class="a t" style="top:810.8px;font-size:11px;line-height:13px;color:#404040;left:233px;letter-spacing:0.1px;">12</span>
<span class="a t" style="top:810.8px;font-size:11px;line-height:13px;color:#404040;left:636px;letter-spacing:0.1px;">2026/01</span>
<span class="a t" style="top:810.8px;font-size:11px;line-height:13px;color:#404040;left:1038px;letter-spacing:0.1px;">02</span>
<span class="a t" style="top:811.7px;font-size:11px;line-height:13px;color:#404040;left:1417.3px;letter-spacing:0.49px;">02/13</span>
<span class="a t k" style="top:235.5px;font-size:13px;line-height:15px;color:#ff0000;left:275px;letter-spacing:0.24px;">최고 2,640 (12/12)</span>
<span class="a t k" style="top:526.5px;font-size:13px;line-height:15px;color:#0000ff;left:581px;letter-spacing:0.27px;">최저 2,300 (01/08)</span>
<div class="a" style="left:5px;top:53px;width:5px;height:7px;background:#b8b8b8;border:1px solid #808080;box-sizing:border-box;"></div>
<div class="a" style="left:12px;top:49px;width:58px;height:16px;background:#e9e9e9;border:1px solid #c4c4c4;box-sizing:border-box;"></div>
<span class="a t k" style="top:49.7px;font-size:13px;line-height:15px;color:#303030;left:16.2px;letter-spacing:0.87px;">인터지스</span>
<div class="a" style="left:73px;top:53px;width:5px;height:7px;background:#b8b8b8;border:1px solid #808080;box-sizing:border-box;"></div>
<span class="a t k" style="top:49.7px;font-size:13px;line-height:15px;color:#e61fc4;left:84.3px;letter-spacing:2.05px;">종가</span>
<span class="a t k" style="top:49.7px;font-size:13px;line-height:15px;color:#e61fc4;left:114.5px;letter-spacing:0.55px;">단순</span>
<span class="a t" style="top:49.7px;font-size:13px;line-height:15px;color:#e61fc4;left:145.2px;letter-spacing:-0.97px;">10</span>
<span class="a t" style="top:49.7px;font-size:13px;line-height:15px;color:#1a3fc0;left:166.4px;letter-spacing:-0.47px;">20</span>
<span class="a t" style="top:49.7px;font-size:13px;line-height:15px;color:#eea40a;left:188.2px;letter-spacing:-0.47px;">60</span>
<span class="a t" style="top:49.7px;font-size:13px;line-height:15px;color:#129443;left:211px;letter-spacing:-0.55px;">120</span>
<span class="a t" style="top:49.7px;font-size:13px;line-height:15px;color:#707070;left:239.3px;letter-spacing:-0.45px;">240</span>
<div class="a" style="left:7px;top:67px;width:14px;height:14px;background:#fff;border:1px solid #000;box-sizing:border-box;"></div>
<div class="a" style="left:9px;top:69px;width:10px;height:10px;background:#fff;border:1px solid #909090;box-sizing:border-box;"></div>
<div class="a" style="left:5px;top:605px;width:5px;height:7px;background:#b8b8b8;border:1px solid #808080;box-sizing:border-box;"></div>
<span class="a t k" style="top:601.3px;font-size:13px;line-height:15px;color:#6a5fc8;left:16px;letter-spacing:0.83px;">외국인보유비중</span>
<div class="a" style="left:112px;top:605px;width:5px;height:7px;background:#b8b8b8;border:1px solid #808080;box-sizing:border-box;"></div>
<span class="a t k" style="top:601.3px;font-size:13px;line-height:15px;color:#8f1f2f;left:123.5px;letter-spacing:0.93px;">기관보유수량</span>
<div class="a" style="left:5px;top:704px;width:5px;height:7px;background:#b8b8b8;border:1px solid #808080;box-sizing:border-box;"></div>
<span class="a t k" style="top:700.5px;font-size:13px;line-height:15px;color:#2aa0a0;left:15.3px;letter-spacing:1.66px;">거래량</span>
<span class="a t k" style="top:700.5px;font-size:13px;line-height:15px;color:#e61fc4;left:63.6px;letter-spacing:0.05px;">단순</span>
<span class="a t" style="top:700.5px;font-size:13px;line-height:15px;color:#e61fc4;left:93.5px;">5</span>
<span class="a t" style="top:700.5px;font-size:13px;line-height:15px;color:#eea40a;left:108.4px;letter-spacing:-0.67px;">20</span>
<span class="a t" style="top:700.5px;font-size:13px;line-height:15px;color:#129443;left:130.6px;letter-spacing:-0.67px;">60</span>
<span class="a t" style="top:700.5px;font-size:13px;line-height:15px;color:#707070;left:153px;letter-spacing:-0.65px;">120</span>
<span class="a t k" style="top:712.5px;font-size:11px;line-height:13px;color:#101010;left:6.2px;letter-spacing:0.06px;">66,450주(40.45%)</span>
<div class="a" style="left:1px;top:1px;width:20px;height:20px;background:#f0f0f0;border:1px solid #8c8c8c;box-sizing:border-box;"></div>
<div class="a" style="left:22px;top:1px;width:32px;height:20px;background:#fff;border:1px solid #8c8c8c;box-sizing:border-box;"></div>
<div class="a" style="left:39px;top:2px;width:14px;height:18px;background:#f0f0f0;"></div>
<span class="a t k" style="top:4.0px;font-size:13px;line-height:15px;color:#303030;left:-69px;width:200px;text-align:center;">주</span>
<div class="a" style="left:55px;top:1px;width:20px;height:20px;background:#e8e8e8;border:1px solid #8c8c8c;box-sizing:border-box;"></div>
<span class="a t k" style="top:4.0px;font-size:13px;line-height:15px;color:#000;left:-35px;width:200px;text-align:center;">전</span>
<div class="a" style="left:76px;top:1px;width:88px;height:20px;background:#fff;border:1px solid #8c8c8c;box-sizing:border-box;"></div>
<div class="a" style="left:131px;top:2px;width:32px;height:18px;background:#f0f0f0;"></div>
<div class="a" style="left:79px;top:6px;width:37px;height:12px;background:#0a6cd2;"></div>
<span class="a t" style="top:5.0px;font-size:12px;line-height:14px;color:#fff;left:79px;letter-spacing:-0.5px;">129260</span>
<div class="a" style="left:115px;top:6px;width:1px;height:12px;background:#f08020;"></div>
<div class="a" style="left:165px;top:1px;width:28px;height:20px;background:#f0f0f0;border:1px solid #8c8c8c;box-sizing:border-box;"></div>
<div class="a" style="left:194px;top:1px;width:82px;height:20px;background:#fff;border:1px solid #8c8c8c;box-sizing:border-box;"></div>
<div class="a" style="left:195px;top:2px;width:18px;height:18px;background:#8f4508;"></div>
<div class="a" style="left:197px;top:4px;width:14px;height:14px;background:#065f5f;"></div>
<span class="a t k" style="top:4.0px;font-size:13px;line-height:15px;color:#fff;left:104px;width:200px;text-align:center;">신</span>
<span class="a t k" style="top:4.0px;font-size:13px;line-height:15px;color:#000;left:214.2px;letter-spacing:-0.46px;">인터지스</span>
<div class="a" style="left:277px;top:1px;width:77px;height:20px;background:#ebebeb;border:1px solid #8c8c8c;box-sizing:border-box;"></div>
<div class="a" style="left:278px;top:2px;width:19px;height:18px;background:#1b84c8;"></div>
<span class="a t k" style="top:4.0px;font-size:13px;line-height:15px;color:#fff;left:187.5px;width:200px;text-align:center;">일</span>
<span class="a t k" style="top:4.0px;font-size:13px;line-height:15px;color:#000;left:206.5px;width:200px;text-align:center;">주</span>
<span class="a t k" style="top:4.0px;font-size:13px;line-height:15px;color:#000;left:225.5px;width:200px;text-align:center;">월</span>
<span class="a t k" style="top:4.0px;font-size:13px;line-height:15px;color:#000;left:244.5px;width:200px;text-align:center;">년</span>
<div class="a" style="left:355px;top:1px;width:58px;height:20px;background:#ebebeb;border:1px solid #8c8c8c;box-sizing:border-box;"></div>
<span class="a t k" style="top:4.0px;font-size:13px;line-height:15px;color:#000;left:265px;width:200px;text-align:center;">분</span>
<span class="a t k" style="top:4.0px;font-size:13px;line-height:15px;color:#000;left:284px;width:200px;text-align:center;">초</span>
<span class="a t k" style="top:4.0px;font-size:13px;line-height:15px;color:#000;left:303px;width:200px;text-align:center;">틱</span>
<div class="a" style="left:414px;top:1px;width:153px;height:20px;background:#f0f0f0;border:1px solid #8c8c8c;box-sizing:border-box;"></div>
<span class="a t" style="top:4.5px;font-size:12px;line-height:14px;color:#707070;left:324.5px;width:200px;text-align:center;letter-spacing:-0.6px;">1</span>
<span class="a t" style="top:4.5px;font-size:12px;line-height:14px;color:#707070;left:343.5px;width:200px;text-align:center;letter-spacing:-0.6px;">3</span>
<span class="a t" style="top:4.5px;font-size:12px;line-height:14px;color:#707070;left:362.5px;width:200px;text-align:center;letter-spacing:-0.6px;">5</span>
<span class="a t" style="top:4.5px;font-size:12px;line-height:14px;color:#707070;left:381.5px;width:200px;text-align:center;letter-spacing:-0.6px;">10</span>
<span class="a t" style="top:4.5px;font-size:12px;line-height:14px;color:#707070;left:400.5px;width:200px;text-align:center;letter-spacing:-0.6px;">15</span>
<span class="a t" style="top:4.5px;font-size:12px;line-height:14px;color:#707070;left:419.5px;width:200px;text-align:center;letter-spacing:-0.6px;">30</span>
<span class="a t" style="top:4.5px;font-size:12px;line-height:14px;color:#707070;left:438.5px;width:200px;text-align:center;letter-spacing:-0.6px;">45</span>
<span class="a t" style="top:4.5px;font-size:12px;line-height:14px;color:#707070;left:457.5px;width:200px;text-align:center;letter-spacing:-0.6px;">60</span>
<div class="a" style="left:568px;top:1px;width:39px;height:20px;background:#f0f0f0;border:1px solid #8c8c8c;box-sizing:border-box;"></div>
<span class="a t" style="top:4.5px;font-size:12px;line-height:14px;color:#606060;left:480.5px;width:200px;text-align:center;">5</span>
<div class="a" style="left:608px;top:1px;width:30px;height:20px;background:#fff;border:1px solid #8c8c8c;box-sizing:border-box;"></div>
<span class="a t" style="top:4.5px;font-size:12px;line-height:14px;color:#000;right:836.0px;letter-spacing:-0.5px;">64</span>
<span class="a t" style="top:4.5px;font-size:12px;line-height:14px;color:#404040;left:638.8px;letter-spacing:0.31px;">/600</span>
<div class="a" style="left:673px;top:1px;width:77px;height:20px;background:#f0f0f0;border:1px solid #8c8c8c;box-sizing:border-box;"></div>
<div class="a" style="left:751px;top:1px;width:84px;height:20px;background:#fff;border:1px solid #8c8c8c;box-sizing:border-box;"></div>
<div class="a" style="left:816px;top:2px;width:18px;height:18px;background:#f0f0f0;"></div>
<span class="a t" style="top:4.5px;font-size:12px;line-height:14px;color:#000;left:754.3px;letter-spacing:0.05px;">2026/02/13</span>
<div class="a" style="left:2px;top:2px;width:18px;height:18px;background:#f0f0f0;box-shadow:inset 0 0 0 1px #fcfcfc;"></div>
<div class="a" style="left:40px;top:2px;width:13px;height:18px;background:#f0f0f0;box-shadow:inset 0 0 0 1px #fcfcfc;"></div>
<div class="a" style="left:131px;top:2px;width:13px;height:18px;background:#f0f0f0;box-shadow:inset 0 0 0 1px #fcfcfc;"></div>
<div class="a" style="left:145px;top:2px;width:18px;height:18px;background:#f0f0f0;box-shadow:inset 0 0 0 1px #fcfcfc;"></div>
<div class="a" style="left:166px;top:2px;width:16px;height:18px;background:#f0f0f0;box-shadow:inset 0 0 0 1px #fcfcfc;"></div>
<div class="a" style="left:183px;top:2px;width:9px;height:18px;background:#f0f0f0;box-shadow:inset 0 0 0 1px #fcfcfc;"></div>
<div class="a" style="left:569px;top:2px;width:23px;height:18px;background:#f0f0f0;box-shadow:inset 0 0 0 1px #fcfcfc;"></div>
<div class="a" style="left:593px;top:2px;width:13px;height:18px;background:#f0f0f0;box-shadow:inset 0 0 0 1px #fcfcfc;"></div>
<div class="a" style="left:674px;top:2px;width:18px;height:18px;background:#f0f0f0;box-shadow:inset 0 0 0 1px #fcfcfc;"></div>
<div class="a" style="left:693px;top:2px;width:18px;height:18px;background:#f0f0f0;box-shadow:inset 0 0 0 1px #fcfcfc;"></div>
<div class="a" style="left:712px;top:2px;width:18px;height:18px;background:#f0f0f0;box-shadow:inset 0 0 0 1px #fcfcfc;"></div>
<div class="a" style="left:731px;top:2px;width:18px;height:18px;background:#f0f0f0;box-shadow:inset 0 0 0 1px #fcfcfc;"></div>
<div class="a" style="left:816px;top:2px;width:18px;height:18px;background:#f0f0f0;box-shadow:inset 0 0 0 1px #fcfcfc;"></div>
<div class="a" style="left:415px;top:2px;width:18px;height:18px;background:#f0f0f0;box-shadow:inset 0 0 0 1px #fcfcfc;"></div>
<div class="a" style="left:434px;top:2px;width:18px;height:18px;background:#f0f0f0;box-shadow:inset 0 0 0 1px #fcfcfc;"></div>
<div class="a" style="left:453px;top:2px;width:18px;height:18px;background:#f0f0f0;box-shadow:inset 0 0 0 1px #fcfcfc;"></div>
<div class="a" style="left:472px;top:2px;width:18px;height:18px;background:#f0f0f0;box-shadow:inset 0 0 0 1px #fcfcfc;"></div>
<div class="a" style="left:491px;top:2px;width:18px;height:18px;background:#f0f0f0;box-shadow:inset 0 0 0 1px #fcfcfc;"></div>
<div class="a" style="left:510px;top:2px;width:18px;height:18px;background:#f0f0f0;box-shadow:inset 0 0 0 1px #fcfcfc;"></div>
<div class="a" style="left:529px;top:2px;width:18px;height:18px;background:#f0f0f0;box-shadow:inset 0 0 0 1px #fcfcfc;"></div>
<div class="a" style="left:548px;top:2px;width:18px;height:18px;background:#f0f0f0;box-shadow:inset 0 0 0 1px #fcfcfc;"></div>
<div class="a" style="left:56px;top:2px;width:18px;height:18px;background:#e8e8e8;box-shadow:inset 0 0 0 1px #f6f6f6;"></div>
<div class="a" style="left:297px;top:2px;width:18px;height:18px;background:#ebebeb;box-shadow:inset 0 0 0 1px #f6f6f6;"></div>
<div class="a" style="left:316px;top:2px;width:18px;height:18px;background:#ebebeb;box-shadow:inset 0 0 0 1px #f6f6f6;"></div>
<div class="a" style="left:335px;top:2px;width:18px;height:18px;background:#ebebeb;box-shadow:inset 0 0 0 1px #f6f6f6;"></div>
<div class="a" style="left:356px;top:2px;width:18px;height:18px;background:#ebebeb;box-shadow:inset 0 0 0 1px #f6f6f6;"></div>
<div class="a" style="left:375px;top:2px;width:18px;height:18px;background:#ebebeb;box-shadow:inset 0 0 0 1px #f6f6f6;"></div>
<div class="a" style="left:394px;top:2px;width:18px;height:18px;background:#ebebeb;box-shadow:inset 0 0 0 1px #f6f6f6;"></div>
<div class="a" style="left:39px;top:1px;width:1px;height:20px;background:#8c8c8c;"></div>
<div class="a" style="left:130px;top:1px;width:1px;height:20px;background:#8c8c8c;"></div>
<div class="a" style="left:144px;top:1px;width:1px;height:20px;background:#8c8c8c;"></div>
<div class="a" style="left:182px;top:1px;width:1px;height:20px;background:#8c8c8c;"></div>
<div class="a" style="left:296px;top:1px;width:1px;height:20px;background:#8c8c8c;"></div>
<div class="a" style="left:315px;top:1px;width:1px;height:20px;background:#8c8c8c;"></div>
<div class="a" style="left:334px;top:1px;width:1px;height:20px;background:#8c8c8c;"></div>
<div class="a" style="left:374px;top:1px;width:1px;height:20px;background:#8c8c8c;"></div>
<div class="a" style="left:393px;top:1px;width:1px;height:20px;background:#8c8c8c;"></div>
<div class="a" style="left:433px;top:1px;width:1px;height:20px;background:#8c8c8c;"></div>
<div class="a" style="left:452px;top:1px;width:1px;height:20px;background:#8c8c8c;"></div>
<div class="a" style="left:471px;top:1px;width:1px;height:20px;background:#8c8c8c;"></div>
<div class="a" style="left:490px;top:1px;width:1px;height:20px;background:#8c8c8c;"></div>
<div class="a" style="left:509px;top:1px;width:1px;height:20px;background:#8c8c8c;"></div>
<div class="a" style="left:528px;top:1px;width:1px;height:20px;background:#8c8c8c;"></div>
<div class="a" style="left:547px;top:1px;width:1px;height:20px;background:#8c8c8c;"></div>
<div class="a" style="left:592px;top:1px;width:1px;height:20px;background:#8c8c8c;"></div>
<div class="a" style="left:692px;top:1px;width:1px;height:20px;background:#8c8c8c;"></div>
<div class="a" style="left:711px;top:1px;width:1px;height:20px;background:#8c8c8c;"></div>
<div class="a" style="left:730px;top:1px;width:1px;height:20px;background:#8c8c8c;"></div>
<div class="a" style="left:815px;top:1px;width:1px;height:20px;background:#8c8c8c;"></div>
<div class="a" style="left:1px;top:24px;width:750px;height:20px;background:#f0f0f0;border:1px solid #8c8c8c;box-sizing:border-box;"></div>
<div class="a" style="left:173px;top:24px;width:1px;height:20px;background:#a0a0a0;"></div>
<div class="a" style="left:344px;top:24px;width:1px;height:20px;background:#a0a0a0;"></div>
<div class="a" style="left:426px;top:24px;width:1px;height:20px;background:#a0a0a0;"></div>
<div class="a" style="left:566px;top:24px;width:1px;height:20px;background:#a0a0a0;"></div>
<div class="a" style="left:753px;top:24px;width:40px;height:20px;background:#f5d0cb;border:1px solid #8c8c8c;box-sizing:border-box;"></div>
<span class="a t k" style="top:27.0px;font-size:13px;line-height:15px;color:#000;left:673px;width:200px;text-align:center;letter-spacing:1px;">매수</span>
<div class="a" style="left:795px;top:24px;width:40px;height:20px;background:#c5dcf4;border:1px solid #8c8c8c;box-sizing:border-box;"></div>
<span class="a t k" style="top:27.0px;font-size:13px;line-height:15px;color:#000;left:715px;width:200px;text-align:center;letter-spacing:1px;">매도</span>
<span class="a t m" style="top:26.2px;right:1409.7px;font-size:14px;line-height:16px;color:#e5190a;transform:scaleX(0.8);transform-origin:right center;"><i>2</i><i>,</i><i>5</i><i>5</i><i>0</i></span>
<span class="a t m" style="top:26.2px;right:1346.7px;font-size:14px;line-height:16px;color:#e5190a;transform:scaleX(0.8);transform-origin:right center;"><i>5</i></span>
<span class="a t m" style="top:26.2px;right:1299.2px;font-size:14px;line-height:16px;color:#e5190a;transform:scaleX(0.8);transform-origin:right center;"><i>+</i><i>0</i><i>.</i><i>2</i><i>0</i><i class="p">%</i></span>
<span class="a t m" style="top:26.2px;right:1227.2px;font-size:14px;line-height:16px;color:#000;transform:scaleX(0.8);transform-origin:right center;"><i>6</i><i>6</i><i>,</i><i>4</i><i>5</i><i>0</i></span>
<span class="a t m" style="top:26.2px;right:1169.2px;font-size:14px;line-height:16px;color:#1a50d0;transform:scaleX(0.8);transform-origin:right center;"><i>4</i><i>0</i><i>.</i><i>2</i><i>7</i><i class="p">%</i></span>
<span class="a t m" style="top:26.2px;right:1128.2px;font-size:14px;line-height:16px;color:#000;transform:scaleX(0.8);transform-origin:right center;"><i>0</i><i>.</i><i>2</i><i>2</i><i class="p">%</i></span>
<span class="a t m" style="top:26.2px;right:1070.7px;font-size:14px;line-height:16px;color:#000;transform:scaleX(0.8);transform-origin:right center;"><i>1</i><i>6</i><i>9</i></span>
<span class="a t k" style="top:27.0px;font-size:13px;line-height:15px;color:#000;left:400.5px;letter-spacing:-0.45px;">백만</span>
<span class="a t k" style="top:27.0px;font-size:13px;line-height:15px;color:#000;left:429.3px;letter-spacing:-0.69px;">최우선</span>
<span class="a t m" style="top:26.2px;right:963.2px;font-size:14px;line-height:16px;color:#e5190a;transform:scaleX(0.8);transform-origin:right center;"><i>2</i><i>,</i><i>5</i><i>5</i><i>0</i></span>
<span class="a t m" style="top:26.2px;right:913.2px;font-size:14px;line-height:16px;color:#000;transform:scaleX(0.8);transform-origin:right center;"><i>2</i><i>,</i><i>5</i><i>4</i><i>5</i></span>
<span class="a t k" style="top:27.0px;font-size:13px;line-height:15px;color:#000;left:567.5px;">시</span>
<span class="a t m" style="top:26.2px;right:852.2px;font-size:14px;line-height:16px;color:#1a50d0;transform:scaleX(0.8);transform-origin:right center;"><i>2</i><i>,</i><i>5</i><i>1</i><i>0</i></span>
<span class="a t k" style="top:27.0px;font-size:13px;line-height:15px;color:#000;left:628.5px;">고</span>
<span class="a t m" style="top:26.2px;right:791.2px;font-size:14px;line-height:16px;color:#e5190a;transform:scaleX(0.8);transform-origin:right center;"><i>2</i><i>,</i><i>5</i><i>8</i><i>0</i></span>
<span class="a t k" style="top:27.0px;font-size:13px;line-height:15px;color:#000;left:689px;">저</span>
<span class="a t m" style="top:26.2px;right:730.2px;font-size:14px;line-height:16px;color:#1a50d0;transform:scaleX(0.8);transform-origin:right center;"><i>2</i><i>,</i><i>5</i><i>0</i><i>5</i></span>
<svg width="1471" height="828" viewBox="0 0 1471 828" style="z-index:5">
<polygon points="65,39.5 70,30 75,39.5" fill="#e5190a"/>
<rect x="6" y="5" width="11" height="12.5" fill="#fff"/><path d="M6.5,5 v5 M6,17.2 h10.6 v-10" fill="none" stroke="#484848" stroke-width="1.1"/><rect x="6" y="5" width="11" height="2.8" fill="#484848"/><path d="M10.5,8 v8.5" stroke="#c8c8c8"/><polygon points="4,8.8 9,13.4 4,18" fill="#484848"/>
<polygon points="43.0,9.5 50.0,9.5 46.5,13.5" fill="#606060"/>
<polygon points="134.0,9.5 141.0,9.5 137.5,13.5" fill="#606060"/>
<polygon points="184.5,10 190.5,10 187.5,13.5" fill="#606060"/>
<polygon points="596.0,9.5 603.0,9.5 599.5,13.5" fill="#b0b0b0"/>
<circle cx="153" cy="9.5" r="4" fill="none" stroke="#606060" stroke-width="1.3"/><path d="M156,12.5 l4,4" stroke="#606060" stroke-width="2"/>
<polygon points="168,9 171,9 174,6 174,17 171,14 168,14" fill="#606060"/><rect x="176" y="9" width="1.5" height="1.5" fill="#606060"/><rect x="178.5" y="9" width="1.5" height="1.5" fill="#606060"/><rect x="176" y="12" width="1.5" height="1.5" fill="#606060"/><rect x="178.5" y="12" width="1.5" height="1.5" fill="#606060"/>
<polygon points="274,12 274,19 267,19" fill="#b0b0b0"/>
<rect x="676" y="6" width="5" height="5" fill="#505050"/><rect x="678" y="4" width="1" height="9" fill="#505050"/><rect x="682" y="6" width="5" height="5" fill="#989898"/><rect x="684" y="4" width="1" height="9" fill="#989898"/><polygon points="685,15 688.5,12 688.5,18" fill="#404040"/><rect x="688" y="14" width="2.2" height="2" fill="#404040"/>
<path d="M695.2,9 L698.4,5.4 L703.8,10.8 L709,5.4" stroke="#505050" fill="none" stroke-width="0.9"/><path d="M699.5,10.8 L702.3,8 M704.5,8 L708.5,11" stroke="#a0a0a0" fill="none" stroke-width="0.9"/><path d="M703.2,15 h6 M706.2,12.2 v5.6" stroke="#404040" stroke-width="2"/>
<path d="M714.7,4.8 h10.5 l2,2 v10.5 h-12.5 z" fill="#c8c8c8" stroke="#606060"/><rect x="717.5" y="4.8" width="7" height="4.4" fill="#ececec" stroke="#606060"/><rect x="716.5" y="11.5" width="9" height="5.8" fill="#ececec" stroke="#606060"/>
<circle cx="740" cy="11.3" r="3.5" fill="none" stroke="#757575" stroke-width="2"/><rect x="738.8" y="5.2" width="2.4" height="2.6" fill="#757575" transform="rotate(0 740 11.3)"/><rect x="738.8" y="5.2" width="2.4" height="2.6" fill="#757575" transform="rotate(45 740 11.3)"/><rect x="738.8" y="5.2" width="2.4" height="2.6" fill="#757575" transform="rotate(90 740 11.3)"/><rect x="738.8" y="5.2" width="2.4" height="2.6" fill="#757575" transform="rotate(135 740 11.3)"/><rect x="738.8" y="5.2" width="2.4" height="2.6" fill="#757575" transform="rotate(180 740 11.3)"/><rect x="738.8" y="5.2" width="2.4" height="2.6" fill="#757575" transform="rotate(225 740 11.3)"/><rect x="738.8" y="5.2" width="2.4" height="2.6" fill="#757575" transform="rotate(270 740 11.3)"/><rect x="738.8" y="5.2" width="2.4" height="2.6" fill="#757575" transform="rotate(315 740 11.3)"/>
<rect x="819" y="6" width="12" height="3" fill="#404040"/><rect x="819.5" y="8.5" width="11" height="7" fill="#fff" stroke="#606060"/><path d="M823.5,9 v6 M827.5,9 v6 M820,12.5 h10" stroke="#a0a0a0"/>
<rect x="10" y="72" width="8" height="4" fill="#d4d4d4"/><path d="M12.5,70 v9 M15.5,70 v9 M10,71.5 h9 M10,76.5 h9" stroke="#909090" stroke-width="1" fill="none" shape-rendering="crispEdges"/>
</svg>
</body></html>
